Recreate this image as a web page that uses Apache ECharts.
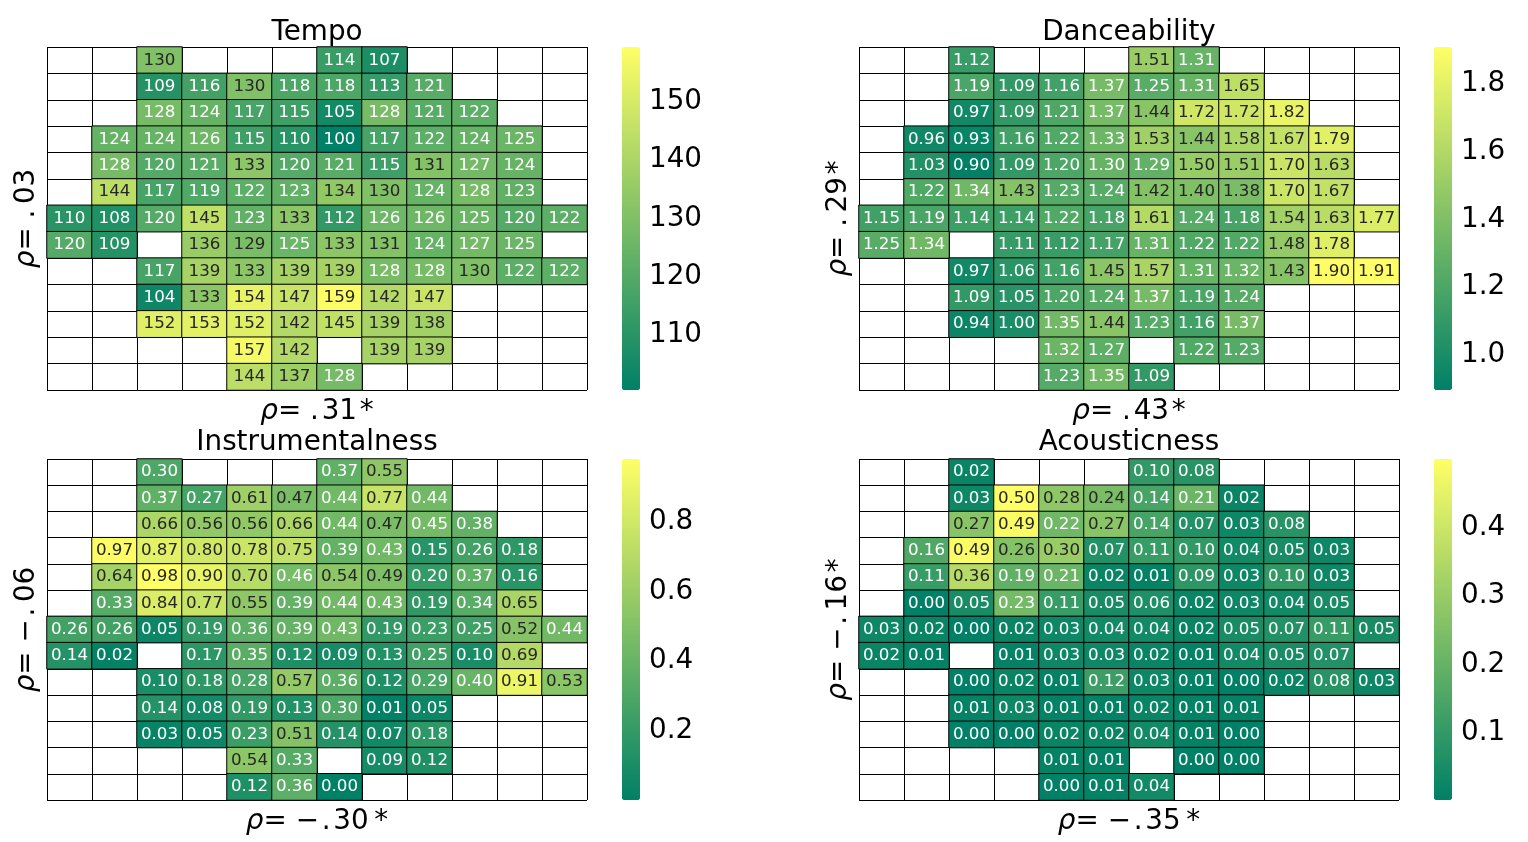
<!DOCTYPE html>
<html><head><meta charset="utf-8">
<script src="https://cdn.jsdelivr.net/npm/echarts@6/dist/echarts.min.js"></script>
<style>html,body{margin:0;padding:0;background:#fff}#c{width:1528px;height:842px}</style>
</head><body><div id="c"></div><script>
const N = null;
const colCategories = ['0','1','2','3','4','5','6','7','8','9','10','11'];
const rowCategories = ['0','1','2','3','4','5','6','7','8','9','10','11','12'];

const tempo = [
[N,N,130,N,N,N,114,107,N,N,N,N],
[N,N,109,116,130,118,118,113,121,N,N,N],
[N,N,128,124,117,115,105,128,121,122,N,N],
[N,124,124,126,115,110,100,117,122,124,125,N],
[N,128,120,121,133,120,121,115,131,127,124,N],
[N,144,117,119,122,123,134,130,124,128,123,N],
[110,108,120,145,123,133,112,126,126,125,120,122],
[120,109,N,136,129,125,133,131,124,127,125,N],
[N,N,117,139,133,139,139,128,128,130,122,122],
[N,N,104,133,154,147,159,142,147,N,N,N],
[N,N,152,153,152,142,145,139,138,N,N,N],
[N,N,N,N,157,142,N,139,139,N,N,N],
[N,N,N,N,144,137,128,N,N,N,N,N]
];
const danceability = [
[N,N,1.12,N,N,N,1.51,1.31,N,N,N,N],
[N,N,1.19,1.09,1.16,1.37,1.25,1.31,1.65,N,N,N],
[N,N,0.97,1.09,1.21,1.37,1.44,1.72,1.72,1.82,N,N],
[N,0.96,0.93,1.16,1.22,1.33,1.53,1.44,1.58,1.67,1.79,N],
[N,1.03,0.90,1.09,1.20,1.30,1.29,1.50,1.51,1.70,1.63,N],
[N,1.22,1.34,1.43,1.23,1.24,1.42,1.40,1.38,1.70,1.67,N],
[1.15,1.19,1.14,1.14,1.22,1.18,1.61,1.24,1.18,1.54,1.63,1.77],
[1.25,1.34,N,1.11,1.12,1.17,1.31,1.22,1.22,1.48,1.78,N],
[N,N,0.97,1.06,1.16,1.45,1.57,1.31,1.32,1.43,1.90,1.91],
[N,N,1.09,1.05,1.20,1.24,1.37,1.19,1.24,N,N,N],
[N,N,0.94,1.00,1.35,1.44,1.23,1.16,1.37,N,N,N],
[N,N,N,N,1.32,1.27,N,1.22,1.23,N,N,N],
[N,N,N,N,1.23,1.35,1.09,N,N,N,N,N]
];
const instrumentalness = [
[N,N,0.30,N,N,N,0.37,0.55,N,N,N,N],
[N,N,0.37,0.27,0.61,0.47,0.44,0.77,0.44,N,N,N],
[N,N,0.66,0.56,0.56,0.66,0.44,0.47,0.45,0.38,N,N],
[N,0.97,0.87,0.80,0.78,0.75,0.39,0.43,0.15,0.26,0.18,N],
[N,0.64,0.98,0.90,0.70,0.46,0.54,0.49,0.20,0.37,0.16,N],
[N,0.33,0.84,0.77,0.55,0.39,0.44,0.43,0.19,0.34,0.65,N],
[0.26,0.26,0.05,0.19,0.36,0.39,0.43,0.19,0.23,0.25,0.52,0.44],
[0.14,0.02,N,0.17,0.35,0.12,0.09,0.13,0.25,0.10,0.69,N],
[N,N,0.10,0.18,0.28,0.57,0.36,0.12,0.29,0.40,0.91,0.53],
[N,N,0.14,0.08,0.19,0.13,0.30,0.01,0.05,N,N,N],
[N,N,0.03,0.05,0.23,0.51,0.14,0.07,0.18,N,N,N],
[N,N,N,N,0.54,0.33,N,0.09,0.12,N,N,N],
[N,N,N,N,0.12,0.36,0.00,N,N,N,N,N]
];
const acousticness = [
[N,N,0.02,N,N,N,0.10,0.08,N,N,N,N],
[N,N,0.03,0.50,0.28,0.24,0.14,0.21,0.02,N,N,N],
[N,N,0.27,0.49,0.22,0.27,0.14,0.07,0.03,0.08,N,N],
[N,0.16,0.49,0.26,0.30,0.07,0.11,0.10,0.04,0.05,0.03,N],
[N,0.11,0.36,0.19,0.21,0.02,0.01,0.09,0.03,0.10,0.03,N],
[N,0.00,0.05,0.23,0.11,0.05,0.06,0.02,0.03,0.04,0.05,N],
[0.03,0.02,0.00,0.02,0.03,0.04,0.04,0.02,0.05,0.07,0.11,0.05],
[0.02,0.01,N,0.01,0.03,0.03,0.02,0.01,0.04,0.05,0.07,N],
[N,N,0.00,0.02,0.01,0.12,0.03,0.01,0.00,0.02,0.08,0.03],
[N,N,0.01,0.03,0.01,0.01,0.02,0.01,0.01,N,N,N],
[N,N,0.00,0.00,0.02,0.02,0.04,0.01,0.00,N,N,N],
[N,N,N,N,0.01,0.01,N,0.00,0.00,N,N,N],
[N,N,N,N,0.00,0.01,0.04,N,N,N,N,N]
];

const titles = ['Tempo', 'Danceability', 'Instrumentalness', 'Acousticness'];
const xNames = ['{i|ρ}= .\u200a31\u200a*', '{i|ρ}= .\u200a43\u200a*', '{i|ρ}= −\u200a.\u200a30\u2009*', '{i|ρ}= −\u200a.\u200a35\u2009*'];
const yNames = ['{i|ρ}= .\u200903', '{i|ρ}= .\u200929\u200a*', '{i|ρ}= −\u200a.\u200906', '{i|ρ}= −\u200a.\u200916\u200a*'];
const tempoTicks = [110, 120, 130, 140, 150];
const danceTicks = [1.0, 1.2, 1.4, 1.6, 1.8];
const instrTicks = [0.2, 0.4, 0.6, 0.8];
const acousTicks = [0.1, 0.2, 0.3, 0.4];
// colour-scale limits
const colorRangeMin = [100.56, 0.897, 0.0025, 0.002];
const colorRangeMax = [159.4, 1.908, 0.979, 0.50];

const matrices = [tempo, danceability, instrumentalness, acousticness];
const tickSets = [tempoTicks, danceTicks, instrTicks, acousTicks];
const cellDecimals = [0, 2, 2, 2];
const tickDecimals = [0, 1, 1, 1];

const FONT = 'DejaVu Sans';
const LOW = '#008066', HIGH = '#ffff66';
const panels = [
  {left: 47, top: 47, height: 343, cbLeft: 622, titleTop: 19},
  {left: 859, top: 47, height: 343, cbLeft: 1434, titleTop: 19},
  {left: 47, top: 459, height: 341, cbLeft: 622, titleTop: 429},
  {left: 859, top: 459, height: 341, cbLeft: 1434, titleTop: 429}
];
const W = 540, CBW = 18;

function lin(c) { return c <= 0.03928 ? c / 12.92 : Math.pow((c + 0.055) / 1.055, 2.4); }
function textColor(v, vmin, vmax) {
  const t = Math.max(0, Math.min(1, (v - vmin) / (vmax - vmin)));
  const r = t, g = 0.5 + 0.5 * t, b = 0.4;
  const L = 0.2126 * lin(r) + 0.7152 * lin(g) + 0.0722 * lin(b);
  return L > 0.408 ? '#262626' : '#ffffff';
}

const option = {
  backgroundColor: '#fff', animation: false,
  title: [], grid: [], xAxis: [], yAxis: [], visualMap: [], series: []
};

matrices.forEach((m, i) => {
  const p = panels[i];
  const vmin = colorRangeMin[i], vmax = colorRangeMax[i];
  const data = [];
  m.forEach((row, r) => row.forEach((v, c) => {
    if (v === null) return;
    data.push({value: [c, r, v], label: {color: textColor(v, vmin, vmax)}});
  }));
  option.title.push({
    text: titles[i], left: p.left + W / 2, top: p.titleTop, textAlign: 'center', padding: 0,
    textStyle: {fontFamily: FONT, fontSize: 27.8, fontWeight: 'normal', color: '#000'}
  });
  option.grid.push({left: p.left, top: p.top, width: W, height: p.height, outerBoundsMode: 'none', containLabel: false});
  option.grid.push({left: p.cbLeft, top: p.top, width: CBW, height: p.height, outerBoundsMode: 'none', containLabel: false});
  const nameStyle = {fontFamily: FONT, fontSize: 27.8, color: '#000',
    rich: {i: {fontFamily: FONT, fontSize: 27.8, fontStyle: 'italic', color: '#000'}}};
  option.xAxis.push({
    type: 'category', data: colCategories, gridIndex: 2 * i,
    axisLine: {show: false}, axisTick: {show: false}, axisLabel: {show: false},
    splitLine: {show: true, interval: 0, lineStyle: {color: '#000', width: 1}},
    name: xNames[i], nameLocation: 'middle', nameGap: 8, nameTextStyle: nameStyle
  });
  option.yAxis.push({
    type: 'category', data: rowCategories, gridIndex: 2 * i, inverse: true,
    axisLine: {show: false}, axisTick: {show: false}, axisLabel: {show: false},
    splitLine: {show: true, interval: 0, lineStyle: {color: '#000', width: 1}},
    name: yNames[i], nameLocation: 'middle', nameGap: 6, nameTextStyle: nameStyle
  });
  option.xAxis.push({type: 'value', gridIndex: 2 * i + 1, show: false, min: 0, max: 1});
  const td = tickDecimals[i];
  option.yAxis.push({
    type: 'value', gridIndex: 2 * i + 1, position: 'right', min: vmin, max: vmax,
    axisLine: {show: false}, splitLine: {show: false},
    axisTick: {show: true, length: 5, customValues: tickSets[i], lineStyle: {color: '#000', width: 1}},
    axisLabel: {show: true, customValues: tickSets[i], margin: 9, padding: [7, 0, 0, 0],
      fontFamily: FONT, fontSize: 27.8, color: '#000',
      formatter: v => Number(v).toFixed(td)}
  });
  option.visualMap.push({
    type: 'continuous', seriesIndex: i, dimension: 2, min: vmin, max: vmax,
    left: p.cbLeft, top: p.top, itemWidth: CBW, itemHeight: p.height, padding: 0,
    calculable: false, realtime: false, hoverLink: false,
    inRange: {color: [LOW, HIGH]}, outOfRange: {color: [LOW, HIGH]}, text: null, showLabel: false
  });
  const cd = cellDecimals[i];
  option.series.push({
    type: 'heatmap', xAxisIndex: 2 * i, yAxisIndex: 2 * i, data: data,
    itemStyle: {borderColor: '#000', borderWidth: 1},
    label: {show: true, fontFamily: FONT, fontSize: 16.7, padding: [3, 0, 0, 0],
      formatter: q => Number(q.value[2]).toFixed(cd)},
    emphasis: {disabled: true}
  });
});

const chart = echarts.init(document.getElementById('c'), null, {renderer: 'canvas'});
chart.setOption(option);
</script></body></html>
